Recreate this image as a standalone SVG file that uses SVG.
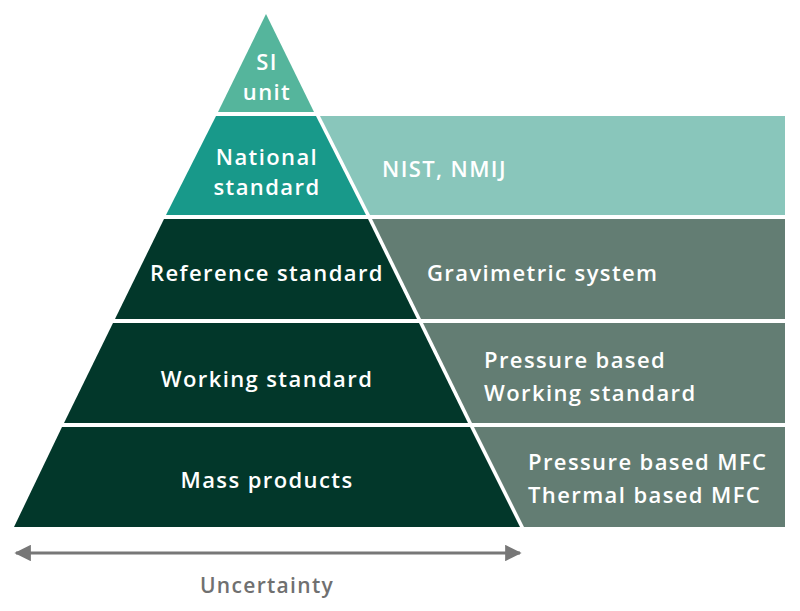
<svg xmlns="http://www.w3.org/2000/svg" width="800" height="611" viewBox="0 0 800 611">
<defs>
<style>
.t{font-family:"Open Sans","Liberation Sans",sans-serif;font-weight:600;fill:#ffffff;font-size:22px;letter-spacing:1.4px}
.c{text-anchor:middle}
.dark{fill:#02372a}
.gray{fill:#637d73}
.u{font-family:"Open Sans","Liberation Sans",sans-serif;font-weight:600;fill:#707070;font-size:21px;letter-spacing:1.3px;text-anchor:middle}
</style>
<marker id="ah" viewBox="0 0 10 10" refX="9" refY="5" markerWidth="7" markerHeight="5.5" orient="auto-start-reverse" markerUnits="strokeWidth">
<path d="M0,0 L10,5 L0,10 z" fill="#777777"/>
</marker>
</defs>
<rect width="800" height="611" fill="#ffffff"/>
<g id="si-unit">
<polygon points="266,14 314,112 218,112" fill="#55b59c"/>
<text class="t c" x="267" y="70">SI</text>
<text class="t c" x="267" y="100">unit</text>
</g>
<g id="national-standard">
<polygon points="316,116 366,215 166,215 216,116" fill="#18998a"/>
<text class="t c" x="267" y="165">National</text>
<text class="t c" x="267" y="195">standard</text>
</g>
<g id="nist-nmij">
<polygon points="320,116 785,116 785,215 370,215" fill="#89c6bb"/>
<text class="t" x="382" y="177">NIST, NMIJ</text>
</g>
<g id="reference-standard">
<polygon points="368,219 417,319 115,319 164,219" class="dark"/>
<text class="t c" x="267" y="281">Reference standard</text>
</g>
<g id="gravimetric-system">
<polygon points="372,219 785,219 785,319 421,319" class="gray"/>
<text class="t" x="427" y="281">Gravimetric system</text>
</g>
<g id="working-standard">
<polygon points="419,323 468,423 64,423 113,323" class="dark"/>
<text class="t c" x="267" y="387">Working standard</text>
</g>
<g id="pressure-working">
<polygon points="423,323 785,323 785,423 472,423" class="gray"/>
<text class="t" x="484" y="368">Pressure based</text>
<text class="t" x="484" y="401">Working standard</text>
</g>
<g id="mass-products">
<polygon points="470,427 520,527 14,527 62,427" class="dark"/>
<text class="t c" x="267" y="488">Mass products</text>
</g>
<g id="mfc">
<polygon points="474,427 785,427 785,527 524,527" class="gray"/>
<text class="t" x="528" y="470">Pressure based MFC</text>
<text class="t" x="528" y="503">Thermal based MFC</text>
</g>
<g id="connectors">
<line x1="16" y1="553" x2="520" y2="553" stroke="#777777" stroke-width="3" marker-start="url(#ah)" marker-end="url(#ah)"/>
</g>
<g id="uncertainty">
<text class="u" x="267" y="593">Uncertainty</text>
</g>
</svg>
